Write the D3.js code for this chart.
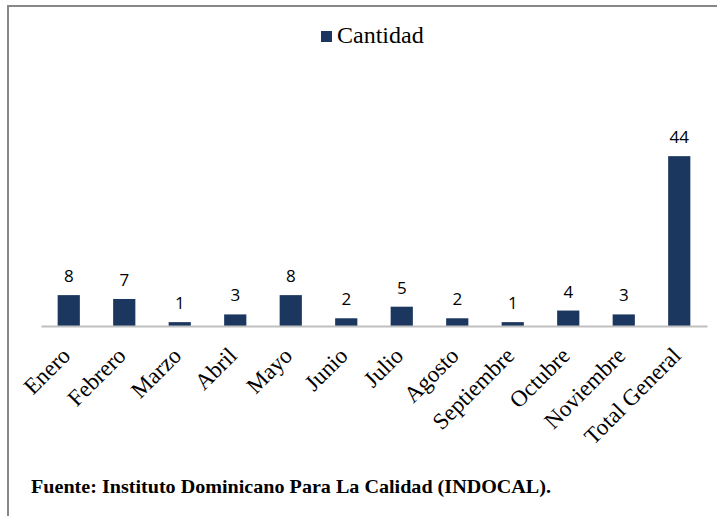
<!DOCTYPE html>
<html lang="es">
<head>
<meta charset="utf-8">
<title>Cantidad por mes</title>
<script src="https://d3js.org/d3.v7.min.js"></script>
<style>
  body { margin: 0; background: #fff; }
  svg { display: block; }
  .cat { font-family: "Liberation Serif", "Times New Roman", serif; font-size: 23px; fill: #000; }
  .val { font-family: "Open Sans", "DejaVu Sans", sans-serif; font-size: 17px; fill: #000; }
  .legend { font-family: "Liberation Serif", "Times New Roman", serif; font-size: 24px; fill: #000; }
  .fuente { font-family: "Liberation Serif", "Times New Roman", serif; font-size: 19px; font-weight: bold; fill: #000; }
</style>
</head>
<body>
<div id="chart"></div>
<script>
// datos
var meses = ["Enero", "Febrero", "Marzo", "Abril", "Mayo", "Junio", "Julio",
             "Agosto", "Septiembre", "Octubre", "Noviembre", "Total General"];
var cantidad = [8, 7, 1, 3, 8, 2, 5, 2, 1, 4, 3, 44];
var serie = "Cantidad";
var fuente = "Fuente:  Instituto  Dominicano  Para  La  Calidad  (INDOCAL).";

var width = 717, height = 516;
var plotBase = 326, plotTop = 133;   // area del grafico
var color = "#1b365f";

var svg = d3.select("#chart").append("svg")
    .attr("width", width)
    .attr("height", height);

svg.append("rect").attr("width", width).attr("height", height).attr("fill", "#fff");

// marco (solo arriba e izquierda se ven)
svg.append("path")
    .attr("d", "M8,516V6H717")
    .attr("fill", "none")
    .attr("stroke", "#888")
    .attr("stroke-width", 2);

var x = d3.scaleBand()
    .domain(meses)
    .range([41, 707])
    .paddingInner(0.6)
    .paddingOuter(0.3);

var y = d3.scaleLinear()
    .domain([0, 50])
    .range([plotBase, plotTop]);

// barras
svg.selectAll(".bar")
    .data(cantidad)
  .enter().append("rect")
    .attr("class", "bar")
    .attr("x", function(d, i) { return x(meses[i]); })
    .attr("width", x.bandwidth())
    .attr("y", function(d) { return y(d); })
    .attr("height", function(d) { return plotBase - y(d); })
    .attr("fill", color);

// eje x
var xAxis = svg.append("g")
    .attr("transform", "translate(0," + plotBase + ")")
    .call(d3.axisBottom(x).tickSize(0).tickFormat(""));
xAxis.select(".domain").attr("stroke", "#bfbfbf").attr("stroke-width", 2);

// etiquetas de categoría
svg.selectAll(".cat")
    .data(meses)
  .enter().append("text")
    .attr("class", "cat")
    .attr("text-anchor", "end")
    .attr("transform", function(d) {
        var cx = x(d) + x.bandwidth() / 2 + 3;
        return "translate(" + cx + "," + (plotBase + 31) + ") rotate(-45)";
    })
    .text(function(d) { return d; });

// valores
svg.selectAll(".val")
    .data(cantidad)
  .enter().append("text")
    .attr("class", "val")
    .attr("text-anchor", "middle")
    .attr("x", function(d, i) { return x(meses[i]) + x.bandwidth() / 2; })
    .attr("y", function(d) { return y(d) - 13; })
    .text(function(d) { return d; });

// leyenda
svg.append("rect")
    .attr("x", 321).attr("y", 31)
    .attr("width", 11).attr("height", 11)
    .attr("fill", color);
svg.append("text")
    .attr("class", "legend")
    .attr("x", 337).attr("y", 43)
    .text(serie);

// fuente
svg.append("text")
    .attr("class", "fuente")
    .attr("x", 31).attr("y", 493)
    .attr("textLength", 520)
    .attr("lengthAdjust", "spacingAndGlyphs")
    .text(fuente);
</script>
</body>
</html>
